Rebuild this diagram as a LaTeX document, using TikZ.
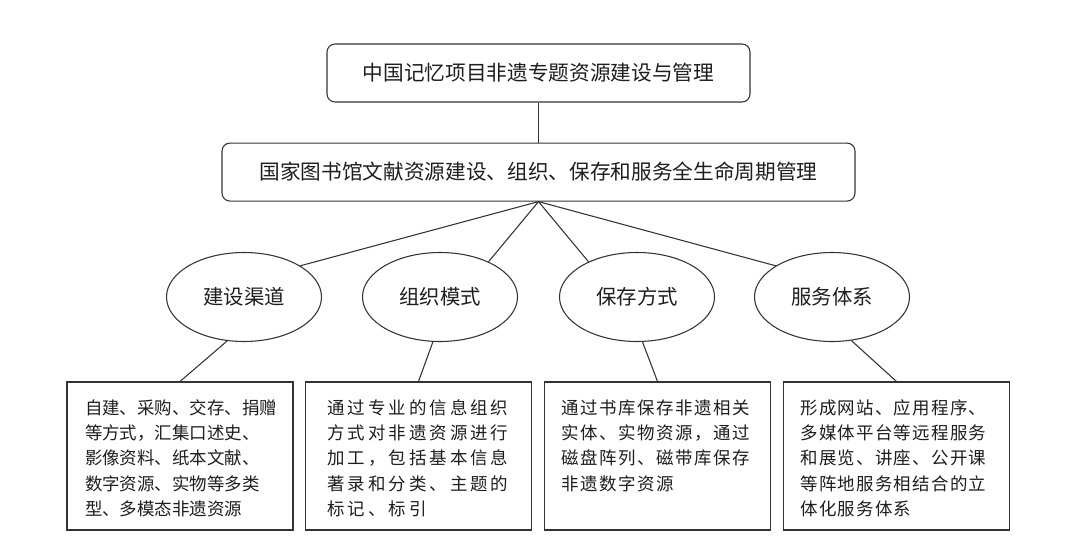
\documentclass[tikz,border=0pt]{standalone}
\usepackage{fontspec}
\setmainfont{Liberation Serif}
\newfontfamily\cjk{Noto Sans CJK SC}
\usepackage{tikz}
\usetikzlibrary{shapes.geometric,positioning}
\definecolor{memLine}{HTML}{333333}
\definecolor{memText}{HTML}{1E1E1E}
\newcommand{\memnotetext}[3]{\parbox[c][111pt][t]{169.5pt}{\leftskip=#1\relax\addfontfeature{LetterSpace=#2}\rule{0pt}{24pt}#3}}
\tikzset{
  memhead/.style={draw=memLine,line width=0.8pt,rounded corners=6pt,text=memText,
                  minimum height=43.5pt,inner sep=0pt,font=\cjk\fontsize{15.5}{18}\selectfont},
  memoval/.style={ellipse,draw=memLine,line width=0.8pt,text=memText,minimum width=116.25pt,
                  minimum height=66.75pt,inner sep=1pt,font=\cjk\fontsize{15.3}{18}\selectfont},
  memnote/.style={draw=memLine,line width=0.8pt,text=memText,inner sep=0pt,
                  font=\cjk\fontsize{13.1}{19}\selectfont},
  memlink/.style={draw=memLine,line width=0.8pt},
}
\begin{document}
\begin{tikzpicture}[x=0.75pt,y=-0.75pt]
  \useasboundingbox[fill=white] (0,0) rectangle (1080,549);

  \node[memhead,minimum width=317.25pt] (title) at (538.5,73) {中国记忆项目非遗专题资源建设与管理};
  \node[memhead,minimum width=474.75pt,below=30pt of title] (life) {国家图书馆文献资源建设、组织、保存和服务全生命周期管理};

  % the four branches
  \node[memoval] (build) at (244,297) {建设渠道};
  \node[memoval] (org) at (440,297) {组织模式};
  \node[memoval] (keep) at (637,297) {保存方式};
  \node[memoval] (serve) at (832,297) {服务体系};

  \node[memnote] (buildtxt) at (180,456) {\memnotetext{13.5pt}{0}{自建、采购、交存、捐赠\\等方式，汇集口述史、\\影像资料、纸本文献、\\数字资源、实物等多类\\型、多模态非遗资源}};
  \node[memnote] (orgtxt) at (418.5,456) {\memnotetext{16.5pt}{17}{通过专业的信息组织\\方式对非遗资源进行\\加工，包括基本信息\\著录和分类、主题的\\标记、标引}};
  \node[memnote] (keeptxt) at (657.5,456) {\memnotetext{12.75pt}{9}{通过书库保存非遗相关\\实体、实物资源，通过\\磁盘阵列、磁带库保存\\非遗数字资源}};
  \node[memnote] (servetxt) at (896.5,456) {\memnotetext{12.75pt}{7}{形成网站、应用程序、\\多媒体平台等远程服务\\和展览、讲座、公开课\\等阵地服务相结合的立\\体化服务体系}};

  \draw[memlink] (title) -- (life);
  \foreach \b/\a in {build/29,org/36,keep/144,serve/151}
    \draw[memlink] (life.south) -- (\b.\a);
  \foreach \b/\a in {build/249,org/261,keep/277,serve/294}
    \draw[memlink] (\b.\a) -- (\b txt.north);
\end{tikzpicture}
\end{document}
